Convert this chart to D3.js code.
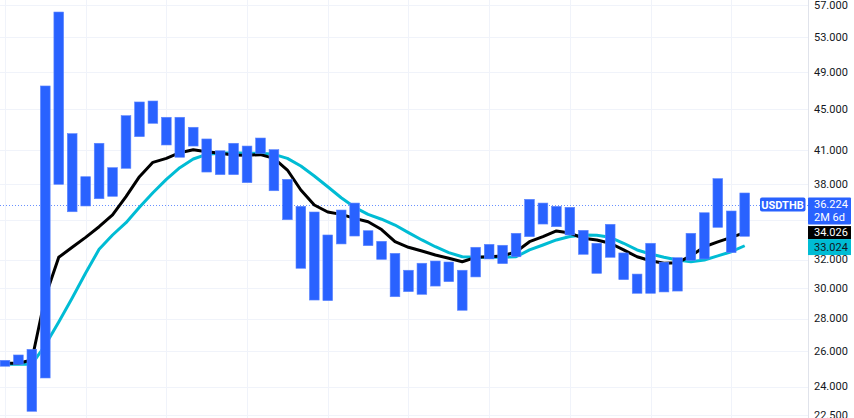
<!DOCTYPE html>
<html>
<head>
<meta charset="utf-8">
<script src="https://cdn.jsdelivr.net/npm/d3@7"></script>
<style>
  html, body { margin: 0; padding: 0; background: #fff; }
  #chart { width: 854px; height: 418px; }
  .tick-label { font-family: Roboto, "Liberation Sans", sans-serif; font-size: 11px; fill: #131722; }
  .tag { font-family: Roboto, "Liberation Sans", sans-serif; font-size: 11px; }
</style>
</head>
<body>
<div id="chart"></div>
<script>
// bar ranges (high / low per bar)
var barHigh = [25.47, 25.78, 26.11, 47.44, 56.10, 42.58, 38.62, 41.66, 39.42, 44.35,
  45.75, 45.85, 44.19, 44.19, 43.20, 42.07, 40.96, 41.66, 41.40, 42.16,
  41.06, 38.39, 36.11, 35.65, 33.84, 35.81, 36.38, 34.17, 33.36, 32.46,
  31.24, 31.74, 31.90, 31.83, 31.24, 32.91, 33.13, 33.06, 33.97, 36.69,
  36.38, 36.11, 36.03, 34.20, 33.21, 34.67, 32.49, 30.97, 33.21, 31.81,
  32.14, 33.97, 35.59, 38.45, 35.73, 37.22];
var barLow = [25.13, 25.24, 22.69, 24.47, 37.96, 35.67, 36.14, 36.74, 36.94, 39.36,
  42.29, 43.59, 41.50, 40.36, 41.40, 39.03, 38.80, 38.80, 38.10, 40.72,
  37.41, 35.03, 31.38, 29.20, 29.16, 33.16, 33.76, 33.03, 32.02, 29.42,
  29.76, 29.58, 30.14, 30.44, 28.53, 30.77, 32.05, 31.71, 32.21, 33.71,
  34.69, 34.48, 33.84, 32.39, 31.02, 32.17, 30.58, 29.65, 29.65, 29.74,
  29.80, 31.95, 32.05, 34.43, 32.51, 33.74];

// moving averages (black = fast, cyan = slow)
var maFast = [25.30, 25.30, 25.49, 29.42, 32.17, 32.91, 33.66, 34.48, 35.41, 36.91,
  38.62, 39.90, 40.26, 40.78, 41.05, 40.87, 40.72, 40.57, 40.54, 40.60,
  40.26, 39.21, 37.47, 36.22, 35.65, 35.46, 35.14, 34.87, 34.26, 33.33,
  32.91, 32.63, 32.34, 32.10, 31.85, 32.17, 32.21, 32.27, 32.58, 33.33,
  33.71, 34.15, 33.99, 33.59, 33.46, 33.21, 32.71, 32.21, 31.92, 31.74,
  31.78, 32.27, 32.95, 33.31, 33.66, 34.026];
var maSlow = [25.24, 25.24, 25.24, 26.37, 27.78, 29.34, 31.05, 32.76, 33.84, 34.80,
  36.03, 37.24, 38.39, 39.42, 40.20, 40.63, 40.72, 40.78, 40.72, 40.72,
  40.63, 40.26, 39.57, 38.68, 37.75, 36.82, 36.03, 35.46, 35.07, 34.61,
  34.02, 33.46, 32.95, 32.51, 32.21, 32.17, 32.17, 32.17, 32.21, 32.71,
  33.08, 33.46, 33.72, 33.84, 33.82, 33.66, 33.21, 32.71, 32.41, 32.17,
  31.97, 31.85, 31.97, 32.27, 32.58, 33.024];

var tickValues = [57, 53, 49, 45, 41, 38, 35, 32, 30, 28, 26, 24, 22.5];
var symbol = "USDTHB";
var lastPrice = 36.224;
var countdown = "2M 6d";

var W = 854, H = 418;
var axisX = 808;

var svg = d3.select("#chart").append("svg")
  .attr("width", W)
  .attr("height", H);

var x = d3.scaleLinear().domain([0, barHigh.length - 1]).range([4.95, 744.7]);
var y = d3.scaleLog().domain([22.5, 57]).range([415, 5]);
var barW = 9.7;
var fmt = d3.format(".3f");

// grid
svg.append("g").selectAll("line")
  .data(tickValues)
  .enter().append("line")
  .attr("x1", 0).attr("x2", axisX)
  .attr("y1", function(d) { return Math.round(y(d)) + 0.5; })
  .attr("y2", function(d) { return Math.round(y(d)) + 0.5; })
  .attr("stroke", "#f0f3fa");

svg.append("g").selectAll("line")
  .data(d3.range(0, barHigh.length, 6))
  .enter().append("line")
  .attr("x1", function(d) { return Math.round(x(d)) + 0.5; })
  .attr("x2", function(d) { return Math.round(x(d)) + 0.5; })
  .attr("y1", 0).attr("y2", H)
  .attr("stroke", "#f0f3fa");

// price line
svg.append("line")
  .attr("x1", 0).attr("x2", axisX)
  .attr("y1", Math.round(y(lastPrice)) + 0.5)
  .attr("y2", Math.round(y(lastPrice)) + 0.5)
  .attr("stroke", "#2962ff")
  .attr("stroke-opacity", 0.7)
  .attr("stroke-dasharray", "1,2");

// moving averages
var line = d3.line()
  .x(function(d, i) { return x(i); })
  .y(function(d) { return y(d); });

svg.append("path")
  .datum(maSlow)
  .attr("d", line)
  .attr("fill", "none")
  .attr("stroke", "#00bcd4")
  .attr("stroke-width", 3)
  .attr("stroke-linejoin", "round");

svg.append("path")
  .datum(maFast)
  .attr("d", line)
  .attr("fill", "none")
  .attr("stroke", "#000")
  .attr("stroke-width", 3)
  .attr("stroke-linejoin", "round");

// bars
svg.append("g").selectAll("rect")
  .data(barHigh)
  .enter().append("rect")
  .attr("x", function(d, i) { return x(i) - barW / 2; })
  .attr("y", function(d) { return y(d); })
  .attr("width", barW)
  .attr("height", function(d, i) { return y(barLow[i]) - y(d); })
  .attr("fill", "#2962ff")
  .attr("stroke", "#5c85ff")
  .attr("stroke-width", 0.6);

// right axis
svg.append("line")
  .attr("x1", axisX + 0.5).attr("x2", axisX + 0.5)
  .attr("y1", 0).attr("y2", H)
  .attr("stroke", "#e0e3eb");

svg.append("g").selectAll("text")
  .data(tickValues)
  .enter().append("text")
  .attr("class", "tick-label")
  .attr("x", 814)
  .attr("y", function(d) { return y(d); })
  .attr("dy", "0.35em")
  .text(function(d) { return fmt(d); });

// symbol tag on the price line
var py = y(lastPrice);
svg.append("rect")
  .attr("x", 760).attr("y", py - 7.5)
  .attr("width", 45.5).attr("height", 14)
  .attr("rx", 2)
  .attr("fill", "#2962ff");
svg.append("text")
  .attr("class", "tag")
  .attr("x", 782.5).attr("y", py)
  .attr("dy", "0.35em")
  .attr("text-anchor", "middle")
  .attr("font-size", "10.5px")
  .attr("font-weight", "bold")
  .attr("fill", "#fff")
  .text(symbol);

// last price + countdown
svg.append("rect")
  .attr("x", axisX).attr("y", py - 7.5)
  .attr("width", 43).attr("height", 27)
  .attr("rx", 1)
  .attr("fill", "#2962ff");
svg.append("text")
  .attr("class", "tag")
  .attr("x", 814).attr("y", py - 1)
  .attr("dy", "0.35em")
  .attr("fill", "#fff")
  .text(fmt(lastPrice));
svg.append("text")
  .attr("class", "tag")
  .attr("x", 814).attr("y", py + 12.5)
  .attr("dy", "0.35em")
  .attr("font-size", "10.5px")
  .attr("fill", "#fff")
  .text(countdown);

// moving average tags
var lastFast = maFast[maFast.length - 1];
var lastSlow = maSlow[maSlow.length - 1];
svg.append("rect")
  .attr("x", axisX).attr("y", y(lastFast) - 6.5)
  .attr("width", 43).attr("height", 13)
  .attr("fill", "#000");
svg.append("text")
  .attr("class", "tag")
  .attr("x", 814).attr("y", y(lastFast))
  .attr("dy", "0.35em")
  .attr("fill", "#fff")
  .text(fmt(lastFast));

svg.append("rect")
  .attr("x", axisX).attr("y", y(lastFast) + 6.5)
  .attr("width", 43).attr("height", 16)
  .attr("fill", "#00bcd4");
svg.append("text")
  .attr("class", "tag")
  .attr("x", 814).attr("y", y(lastSlow) + 1)
  .attr("dy", "0.35em")
  .attr("fill", "#131722")
  .text(fmt(lastSlow));
</script>
</body>
</html>
